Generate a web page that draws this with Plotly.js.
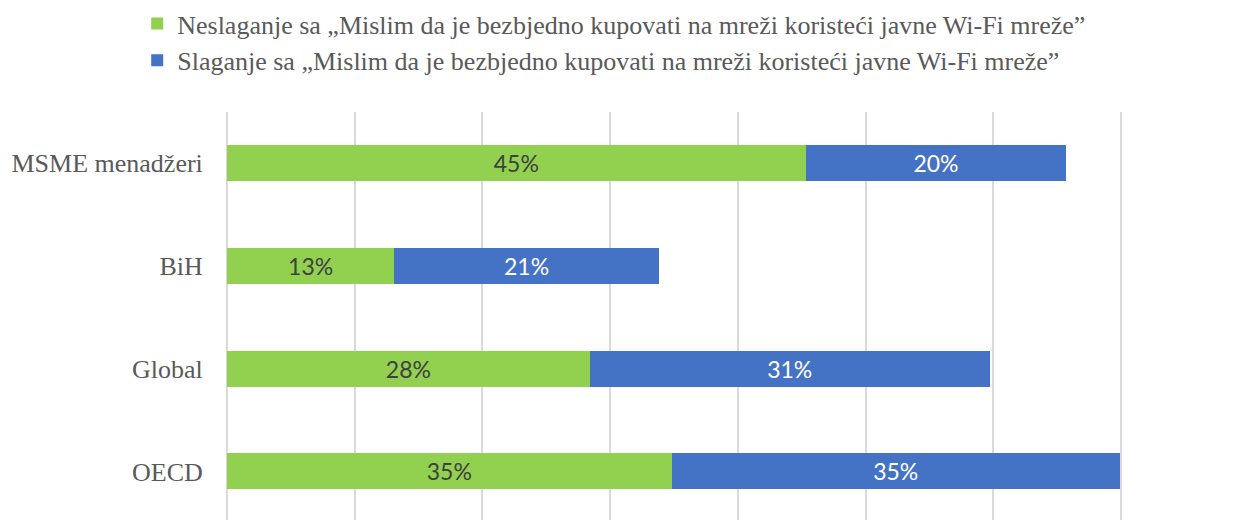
<!DOCTYPE html>
<html>
<head>
<meta charset="utf-8">
<script src="https://cdn.plot.ly/plotly-3.0.1.min.js"></script>
<style>html,body{margin:0;padding:0;background:#fff}#chart{width:1240px;height:520px}</style>
</head>
<body>
<div id="chart"></div>
<script>
const categories = ["MSME menadžeri", "BiH", "Global", "OECD"];
const disagreeValues = [45.3, 13.1, 28.4, 34.8];
const agreeValues = [20.4, 20.7, 31.3, 35.1];
const disagreeName = "Neslaganje sa „Mislim da je bezbjedno kupovati na mreži koristeći javne Wi-Fi mreže”";
const agreeName = "Slaganje sa „Mislim da je bezbjedno kupovati na mreži koristeći javne Wi-Fi mreže”";

const pct = v => Math.round(v) + "%";

const traces = [
  {
    type: "bar", orientation: "h", name: disagreeName, legendgroup: "a",
    y: categories, x: disagreeValues, text: disagreeValues.map(pct),
    textposition: "inside", insidetextanchor: "middle", textangle: 0,
    insidetextfont: {family: "Lato, 'Open Sans', sans-serif", size: 23, color: "#404040"},
    marker: {color: "#92d050"}, hoverinfo: "none"
  },
  {
    type: "bar", orientation: "h", name: agreeName, legendgroup: "b",
    y: categories, x: agreeValues, text: agreeValues.map(pct),
    textposition: "inside", insidetextanchor: "middle", textangle: 0,
    insidetextfont: {family: "Lato, 'Open Sans', sans-serif", size: 23, color: "#ffffff"},
    marker: {color: "#4472c4"}, hoverinfo: "none"
  }
];

const layout = {
  width: 1240, height: 520,
  margin: {l: 227, r: 115, t: 112, b: 0},
  barmode: "stack", bargap: 0.65,
  paper_bgcolor: "#fff", plot_bgcolor: "#fff",
  font: {family: "'Liberation Serif', 'Times New Roman', serif", color: "#595959"},
  showlegend: true,
  legend: {
    orientation: "v", traceorder: "normal", tracegroupgap: 6,
    x: -0.1, xanchor: "left", y: 1, yref: "container", yanchor: "top",
    font: {family: "'Liberation Serif', 'Times New Roman', serif", size: 26, color: "#595959"},
    bgcolor: "rgba(0,0,0,0)"
  },
  xaxis: {
    range: [0, 70.3], dtick: 10, showgrid: true, gridcolor: "#d9d9d9", gridwidth: 2,
    zeroline: true, zerolinecolor: "#d9d9d9", zerolinewidth: 2,
    showticklabels: false, ticks: "", showline: false, fixedrange: true
  },
  yaxis: {
    type: "category", range: [3.473, -0.5], showgrid: false, zeroline: false,
    ticks: "outside", ticklen: 18, tickcolor: "rgba(0,0,0,0)",
    tickfont: {family: "'Liberation Serif', 'Times New Roman', serif", size: 26, color: "#595959"},
    showline: false, fixedrange: true
  }
};

Plotly.newPlot("chart", traces, layout, {displayModeBar: false, staticPlot: true});
</script>
</body>
</html>
